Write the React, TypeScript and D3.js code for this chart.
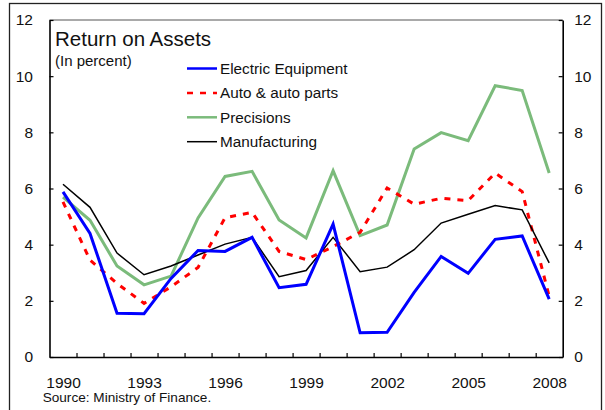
import React, { useEffect, useRef } from "react";
import * as d3 from "d3";

const years = [
  1990, 1991, 1992, 1993, 1994, 1995, 1996, 1997, 1998, 1999, 2000, 2001,
  2002, 2003, 2004, 2005, 2006, 2007, 2008,
];
const electric = [
  5.88, 4.4, 1.56, 1.54, 2.8, 3.79, 3.76, 4.26, 2.47, 2.59, 4.73, 0.86,
  0.88, 2.3, 3.58, 2.98, 4.19, 4.31, 2.06,
];
const auto = [
  5.52, 3.45, 2.62, 1.91, 2.5, 3.19, 4.96, 5.15, 3.76, 3.47, 3.93, 4.44,
  6.02, 5.44, 5.65, 5.57, 6.55, 5.89, 2.16,
];
const precisions = [
  5.69, 4.87, 3.24, 2.57, 2.88, 4.95, 6.43, 6.61, 4.88, 4.24, 6.63, 4.32,
  4.7, 7.41, 7.99, 7.7, 9.66, 9.49, 6.55,
];
const manufacturing = [
  6.15, 5.33, 3.7, 2.93, 3.24, 3.63, 4.02, 4.26, 2.86, 3.08, 4.26, 3.04,
  3.2, 3.82, 4.77, 5.08, 5.39, 5.24, 3.35,
];
const yTicks = [0, 2, 4, 6, 8, 10, 12];
const xLabels = [1990, 1993, 1996, 1999, 2002, 2005, 2008];

const seriesList = [
  { name: "Electric Equipment", values: electric, color: "#0000ff", width: 3, dash: null },
  { name: "Auto & auto parts", values: auto, color: "#ff0000", width: 3, dash: "6,7" },
  { name: "Precisions", values: precisions, color: "#7bbb7b", width: 3, dash: null },
  { name: "Manufacturing", values: manufacturing, color: "#000000", width: 1.5, dash: null },
];

const FONT = "'Liberation Sans', Arial, sans-serif";

const App = () => {
  const ref = useRef<HTMLDivElement>(null);

  useEffect(() => {
    const W = 605;
    const H = 410;
    const left = 49.5;
    const right = 562.7;
    const top = 20;
    const bottom = 357;

    d3.select(ref.current).select("svg").remove();

    const svg = d3
      .select(ref.current)
      .append("svg")
      .attr("width", W)
      .attr("height", H)
      .style("display", "block")
      .style("font-family", FONT);

    svg.append("rect").attr("width", W).attr("height", H).attr("fill", "#fff");

    // outer frame (bottom edge runs off the picture)
    svg
      .append("rect")
      .attr("x", 9.5)
      .attr("y", 3.5)
      .attr("width", 592)
      .attr("height", 430)
      .attr("fill", "none")
      .attr("stroke", "#222")
      .attr("stroke-width", 1.3);

    const x = d3
      .scaleLinear()
      .domain([years[0] - 0.5, years[years.length - 1] + 0.5])
      .range([left, right]);
    const y = d3.scaleLinear().domain([0, 12]).range([bottom, top]);

    // top edge of plot
    svg
      .append("line")
      .attr("x1", left)
      .attr("x2", right)
      .attr("y1", top)
      .attr("y2", top)
      .attr("stroke", "#555")
      .attr("stroke-width", 1);

    const styleAxis = (g, size) => {
      g.select(".domain").attr("stroke", "#000").attr("stroke-width", 1.6);
      g.selectAll(".tick line").attr("stroke", "#000").attr("stroke-width", 1.2);
      g.selectAll("text")
        .attr("fill", "#111")
        .style("font-size", size + "px")
        .style("font-family", FONT);
    };

    const leftAxis = svg
      .append("g")
      .attr("transform", `translate(${left},0)`)
      .call(
        d3
          .axisLeft(y)
          .tickValues(yTicks)
          .tickSizeInner(-4)
          .tickSizeOuter(0)
          .tickPadding(16.5)
          .tickFormat(d3.format("d"))
      );
    styleAxis(leftAxis, 15.5);

    const rightAxis = svg
      .append("g")
      .attr("transform", `translate(${right},0)`)
      .call(
        d3
          .axisRight(y)
          .tickValues(yTicks)
          .tickSizeInner(-4)
          .tickSizeOuter(0)
          .tickPadding(11.5)
          .tickFormat(d3.format("d"))
      );
    styleAxis(rightAxis, 15.5);

    // year boundaries as inward tick marks
    const bounds = years.slice(0, -1).map((yr) => yr + 0.5);
    const tickAxis = svg
      .append("g")
      .attr("transform", `translate(0,${bottom})`)
      .call(
        d3.axisBottom(x).tickValues(bounds).tickSizeInner(-4).tickSizeOuter(0).tickFormat(() => "")
      );
    styleAxis(tickAxis, 15.5);

    const labelAxis = svg
      .append("g")
      .attr("transform", `translate(0,${bottom})`)
      .call(
        d3.axisBottom(x).tickValues(xLabels).tickSize(0).tickPadding(19.5).tickFormat(d3.format("d"))
      );
    labelAxis.select(".domain").remove();
    styleAxis(labelAxis, 15.5);

    const line = d3
      .line<number>()
      .x((d, i) => x(years[i]))
      .y((d) => y(d));

    // draw precisions and auto underneath the others, as in the original
    const order = [2, 1, 3, 0];
    order.forEach((k) => {
      const s = seriesList[k];
      svg
        .append("path")
        .datum(s.values)
        .attr("d", line)
        .attr("fill", "none")
        .attr("stroke", s.color)
        .attr("stroke-width", s.width)
        .attr("stroke-dasharray", s.dash)
        .attr("stroke-linejoin", "miter");
    });

    // title block
    svg
      .append("text")
      .attr("x", 55)
      .attr("y", 45.5)
      .style("font-size", "20.5px")
      .attr("fill", "#111")
      .text("Return on Assets");
    svg
      .append("text")
      .attr("x", 55)
      .attr("y", 65.5)
      .style("font-size", "15px")
      .attr("fill", "#111")
      .text("(In percent)");

    // legend
    const legend = svg.append("g").attr("transform", "translate(187,68.5)");
    seriesList.forEach((s, i) => {
      const row = legend.append("g").attr("transform", `translate(0,${i * 24.4})`);
      row
        .append("line")
        .attr("x1", 0)
        .attr("x2", 30)
        .attr("stroke", s.color)
        .attr("stroke-width", s.width === 3 ? 2.5 : 1.5)
        .attr("stroke-dasharray", s.dash);
      row
        .append("text")
        .attr("x", 33)
        .attr("y", 5.5)
        .style("font-size", "15.3px")
        .attr("fill", "#111")
        .text(s.name);
    });

    svg
      .append("text")
      .attr("x", 42.7)
      .attr("y", 402)
      .style("font-size", "13.6px")
      .attr("fill", "#111")
      .text("Source: Ministry of Finance.");
  }, []);

  return <div ref={ref} style={{ position: "absolute", left: 0, top: 0 }}></div>;
};

export default App;
